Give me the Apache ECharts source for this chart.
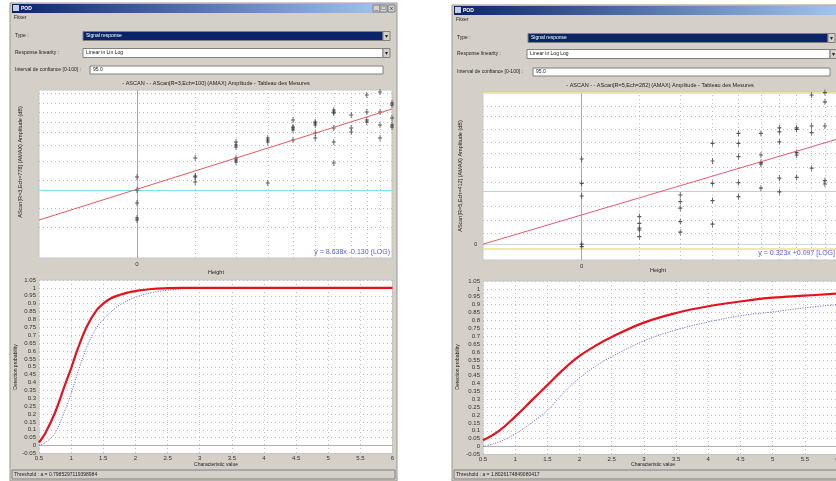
<!DOCTYPE html>
<html><head><meta charset="utf-8">
<script src="https://cdn.jsdelivr.net/npm/echarts@6/dist/echarts.min.js"></script>
<style>html,body{margin:0;padding:0;background:#fff}#c{width:836px;height:481px}</style>
</head><body><div id="c"></div>
<script>
// ---------- DATA ----------
// Top-left: amplitude vs log(height), columns of measurements
const leftHeights = [0, 0.97, 1.65, 2.18, 2.6, 2.97, 3.28, 3.57, 3.83, 4.05, 4.25];
const leftAmplitudes = [
  [6.5, 0, -6.5, -14, -15],
  [16, 7, 6.5, 4],
  [24, 22.5, 21.5, 16, 15, 14],
  [26, 25, 24, 3.5],
  [35, 31.5, 31, 30, 25],
  [34, 33.5, 32.5, 28.5, 26],
  [40, 39, 38.5, 31, 24, 13.5],
  [37.5, 31, 29],
  [47.5, 39, 35, 34],
  [49, 39, 32.5, 26],
  [43.5, 42.5, 36, 32.5, 31.5]
];
const leftFitLine = [[-1.633, -15], [4.25, 40.5]];
const leftGridLevels = [48.3, 43.3, 38.8, 33.8, 28.8, 22.5, 14.6, 5, -9.2, -18.4];
const leftDecision = 0;
const leftEquation = 'y = 8.638x -0.130 (LOG)';

// Top-right
const rightHeights = [0, 1, 1.71, 2.27, 2.72, 3.11, 3.43, 3.73, 3.99, 4.22];
const rightAmplitudes = [
  [16, 3.85, -2.5, -26.6, -27.8],
  [-12.8, -16.2, -18.6, -19.5, -22.8],
  [-2, -5.3, -8.6, -15.3, -20.6],
  [23.8, 15, 3.8, -4.8, -16.6],
  [28.8, 23.8, 17.2, 4.2, -2.8],
  [28.8, 18, 14.2, 13.5, 1.4],
  [31.6, 29.6, 24.6, 6.4, -0.4],
  [31.6, 30.8, 19.2, 18, 6.8],
  [48, 32.5, 29.2, 11.4],
  [49.2, 44.6, 32.5, 5.2, 3.5]
];
const rightFitLine = [[-1.713, -26.6], [4.43, 25.9]];
const rightGridLevels = [42.2, 37.2, 30.8, 24.6, 18.8, 11.8, 4.6, -7.8, -14.5, -21.2];
const rightDecision = 0;
const rightBounds = [49, -29];
const rightNoise = -26.5;
const rightEquation = 'y = 0.323x +0.097 [LOG]';

// Bottom: POD curves
const podLeftX   = [0.5, 0.6, 0.75, 0.9, 1, 1.1, 1.25, 1.4, 1.5, 1.6, 1.75, 1.9, 2, 2.25, 2.5, 2.75, 3, 4, 5, 6];
const podLeftPod = [0.02, 0.08, 0.21, 0.38, 0.49, 0.61, 0.76, 0.86, 0.9, 0.93, 0.955, 0.972, 0.98, 0.993, 0.998, 1, 1, 1, 1, 1];
const podLeftBoundX = [0.5, 0.6, 0.75, 0.9, 1, 1.1, 1.25, 1.4, 1.5, 1.6, 1.75, 2, 2.25, 2.5, 2.75, 3, 4, 5, 6];
const podLeftBound  = [0, 0.02, 0.08, 0.22, 0.33, 0.46, 0.63, 0.75, 0.8, 0.84, 0.89, 0.94, 0.97, 0.985, 0.995, 1, 1, 1, 1];

const podRightX   = [0.5, 0.75, 1, 1.25, 1.5, 1.75, 2, 2.25, 2.5, 3, 3.5, 4, 4.5, 5, 5.5, 6];
const podRightPod = [0.04, 0.1, 0.19, 0.29, 0.39, 0.49, 0.575, 0.64, 0.695, 0.786, 0.847, 0.89, 0.92, 0.944, 0.957, 0.97];
const podRightBound = [0.0, 0.03, 0.08, 0.15, 0.23, 0.34, 0.435, 0.51, 0.57, 0.67, 0.74, 0.79, 0.83, 0.854, 0.88, 0.9];

const leftThreshold = 'Threshold : a = 0.7985297119398984';
const rightThreshold = 'Threshold : a = 1.8026174849080417';

// ---------- BUILD ----------
const FONT = '"Liberation Sans", Arial, sans-serif';
function pts(hs, amps){ const o=[]; hs.forEach((h,i)=>amps[i].forEach(a=>o.push([h,a]))); return o; }
function zip(xs, ys){ return xs.map((x,i)=>[x, ys[i]]); }
const PLUS = 'path://M2,0H3V2H5V3H3V5H2V3H0V2H2Z';
const dotted = {type:[1,3], color:'#bdbdbd', width:1};

function gridMarks(xs, ys, extra){
  const d = [];
  xs.forEach((x,i)=>{ if (i>0) d.push({xAxis:x, lineStyle:dotted}); });
  ys.forEach(y=>d.push({yAxis:y, lineStyle:dotted}));
  d.push({xAxis:0, lineStyle:{type:'solid', color:'#a8a8a8', width:1}});
  return d.concat(extra);
}

function txt(x,y,s,o){
  const st = Object.assign({text:s, fill:'#222', font:'5px '+FONT, textAlign:'left', textVerticalAlign:'middle'}, (o&&o.style)||{});
  const e = {type:'text', x:x, y:y, z:100, silent:true, style:st};
  if (o && o.rotation) e.rotation = o.rotation;
  return e;
}
function rect(x,y,w,h,fill,stroke,z){
  return {type:'rect', shape:{x:x,y:y,width:w,height:h}, z:(z===undefined?-10:z), silent:true,
    style:{fill:fill, stroke:stroke||null, lineWidth:stroke?1:0}};
}
function titleGrad(){
  return {type:'linear', x:0, y:0, x2:1, y2:0, colorStops:[{offset:0,color:'#0a246a'},{offset:1,color:'#a6caf0'}]};
}

function windowParts(o){
  const g = [];
  g.push(rect(o.x, o.y, o.w, o.h, '#d4d0c8', '#9a978f', -20));
  g.push(rect(o.x+2, o.y+1, o.w-4, 9, titleGrad(), null, -15));
  g.push(rect(o.x+3, o.y+2, 6, 6, '#c8d0e0', null, -14));
  g.push(txt(o.x+11, o.y+5.5, 'POD', {style:{fill:'#fff', font:'bold 5px '+FONT}}));
  if (o.buttons) {
    [['_',24],['□',17],['x',9]].forEach(b=>{
      g.push(rect(o.x+o.w-b[1], o.y+2, 7, 7, '#d4d0c8', '#808080', -14));
      g.push(txt(o.x+o.w-b[1]+3.5, o.y+5.5, b[0], {style:{textAlign:'center', font:'6px '+FONT}}));
    });
  }
  g.push(txt(o.x+4, o.y+15, 'Fitxer'));
  g.push(txt(o.x+5, o.typeY, 'Type :'));
  g.push(rect(o.typeX, o.typeY-4.5, o.typeW, 9, '#0a246a', '#808080', -14));
  g.push(txt(o.typeX+3, o.typeY, 'Signal response', {style:{fill:'#fff'}}));
  g.push(rect(o.typeX+o.typeW, o.typeY-4.5, 7, 9, '#d4d0c8', '#808080', -14));
  g.push(txt(o.typeX+o.typeW+3.5, o.typeY, '▾', {style:{textAlign:'center', font:'6px '+FONT}}));
  g.push(txt(o.x+5, o.linY, 'Response linearity :'));
  g.push(rect(o.linX, o.linY-4.5, o.linW, 9, '#ffffff', '#808080', -14));
  g.push(txt(o.linX+3, o.linY, o.linText));
  g.push(rect(o.linX+o.linW, o.linY-4.5, 7, 9, '#d4d0c8', '#808080', -14));
  g.push(txt(o.linX+o.linW+3.5, o.linY, '▾', {style:{textAlign:'center', font:'6px '+FONT}}));
  g.push(txt(o.x+5, o.confY, 'Interval de confiance [0-100] :'));
  g.push(rect(o.confX, o.confY-4, o.confW, 8, '#ffffff', '#808080', -14));
  g.push(txt(o.confX+3, o.confY, '95.0'));
  g.push(txt(o.titleX, o.titleY, o.title, {style:{textAlign:'center', font:'5.5px '+FONT}}));
  g.push(txt(o.yNameX, o.yNameY, o.yName, {rotation:Math.PI/2, style:{textAlign:'center', font:'5.5px '+FONT}}));
  g.push(txt(o.yName2X, o.yName2Y, 'Detection probability', {rotation:Math.PI/2, style:{textAlign:'center', font:'5px '+FONT}}));
  g.push(txt(o.heightX, o.heightY, 'Height', {style:{textAlign:'center', font:'5.5px '+FONT}}));
  g.push(txt(o.charX, o.charY, 'Characteristic value', {style:{textAlign:'center', font:'5px '+FONT}}));
  g.push(txt(o.eqX, o.eqY, o.eq, {style:{textAlign:'right', fill:'#5a5ae6', font:'7px '+FONT}}));
  g.push(rect(o.x+2, o.statusY, o.w-4, 9, '#d4d0c8', '#808080', -14));
  g.push(txt(o.x+4, o.statusY+4.5, o.status));
  return g;
}

const graphics = []
  .concat(windowParts({x:10, y:3, w:387, h:478, buttons:true,
    typeX:83, typeY:36, typeW:300, linY:53, linX:83, linW:300, linText:'Linear in Lin Log',
    confY:70, confX:90, confW:293,
    titleX:216, titleY:83, title:'- ASCAN - - AScan[R=3,Ech=100] (AMAX) Amplitude - Tableau des Mesures',
    yNameX:20, yNameY:162, yName:'AScan[R=3,Ech=778] (AMAX) Amplitude (dB)',
    yName2X:16, yName2Y:367, heightX:216, heightY:272, charX:216, charY:465,
    eqX:390, eqY:252, eq:leftEquation, statusY:470, status:leftThreshold}))
  .concat(windowParts({x:452, y:5, w:400, h:476, buttons:false,
    typeX:528, typeY:38, typeW:300, linY:54, linX:527, linW:303, linText:'Linear in Log Log',
    confY:72, confX:533, confW:297,
    titleX:660, titleY:85, title:'- ASCAN - - AScan[R=5,Ech=282] (AMAX) Amplitude - Tableau des Mesures',
    yNameX:460, yNameY:176, yName:'AScan[R=5,Ech=412] (AMAX) Amplitude (dB)',
    yName2X:458, yName2Y:367, heightX:658, heightY:270, charX:653, charY:465,
    eqX:835, eqY:253, eq:rightEquation, statusY:470, status:rightThreshold}));
graphics.push(txt(477, 245, '0', {style:{textAlign:'right'}}));

const hiddenAxis = {show:true, axisLine:{show:false}, axisTick:{show:false}, splitLine:{show:false}};
const labelStyle = {fontSize:6, color:'#333', fontFamily:FONT};

const option = {
  animation:false,
  backgroundColor:'#ffffff',
  graphic: graphics,
  grid:[
    {left:39, top:90, width:353, height:168, show:true, backgroundColor:'#fff', borderColor:'#c8c8c8', borderWidth:1, outerBoundsMode:'none', containLabel:false},
    {left:483, top:92, width:354, height:168, show:true, backgroundColor:'#fff', borderColor:'#c8c8c8', borderWidth:1, outerBoundsMode:'none', containLabel:false},
    {left:39, top:280, width:353.5, height:173.5, show:true, backgroundColor:'#fff', borderColor:'#c8c8c8', borderWidth:1, outerBoundsMode:'none', containLabel:false},
    {left:483, top:281, width:354, height:173.5, show:true, backgroundColor:'#fff', borderColor:'#c8c8c8', borderWidth:1, outerBoundsMode:'none', containLabel:false}
  ],
  xAxis:[
    Object.assign({type:'value', gridIndex:0, min:-1.633, max:4.25,
      axisLabel:Object.assign({customValues:[0], margin:3}, labelStyle)}, hiddenAxis),
    Object.assign({type:'value', gridIndex:1, min:-1.713, max:4.43,
      axisLabel:Object.assign({customValues:[0], margin:3}, labelStyle)}, hiddenAxis),
    {type:'value', gridIndex:2, min:0.5, max:6, interval:0.5, axisLine:{show:false}, axisTick:{show:false},
      axisLabel:Object.assign({margin:2}, labelStyle), splitLine:{show:true, lineStyle:dotted}},
    {type:'value', gridIndex:3, min:0.5, max:6, interval:0.5, axisLine:{show:false}, axisTick:{show:false},
      axisLabel:Object.assign({margin:2}, labelStyle), splitLine:{show:true, lineStyle:dotted}}
  ],
  yAxis:[
    Object.assign({type:'value', gridIndex:0, min:-34, max:50, axisLabel:{show:false}}, hiddenAxis),
    Object.assign({type:'value', gridIndex:1, min:-34.5, max:49.5, axisLabel:{show:false}}, hiddenAxis),
    {type:'value', gridIndex:2, min:-0.05, max:1.05, interval:0.05, axisLine:{show:false}, axisTick:{show:false},
      axisLabel:Object.assign({margin:3}, labelStyle), splitLine:{show:true, lineStyle:dotted}},
    {type:'value', gridIndex:3, min:-0.05, max:1.05, interval:0.05, axisLine:{show:false}, axisTick:{show:false},
      axisLabel:Object.assign({margin:3}, labelStyle), splitLine:{show:true, lineStyle:dotted}}
  ],
  series:[
    {type:'scatter', xAxisIndex:0, yAxisIndex:0, data:pts(leftHeights, leftAmplitudes),
      symbol:PLUS, symbolSize:[4,6], itemStyle:{color:'#303030'}, z:5, silent:true,
      markLine:{silent:true, symbol:'none', label:{show:false}, animation:false,
        data:gridMarks(leftHeights, leftGridLevels, [{yAxis:leftDecision, lineStyle:{type:'solid', color:'#7fe0ee', width:1}}])}},
    {type:'line', xAxisIndex:0, yAxisIndex:0, data:leftFitLine, showSymbol:false, silent:true,
      lineStyle:{color:'#e85a5a', width:1}, z:6},
    {type:'scatter', xAxisIndex:1, yAxisIndex:1, data:pts(rightHeights, rightAmplitudes),
      symbol:PLUS, symbolSize:[4,6], itemStyle:{color:'#303030'}, z:5, silent:true,
      markLine:{silent:true, symbol:'none', label:{show:false}, animation:false,
        data:gridMarks(rightHeights, rightGridLevels, [
          {yAxis:rightDecision, lineStyle:{type:'solid', color:'#8fe6f0', width:1}},
          {yAxis:rightBounds[0], lineStyle:{type:'solid', color:'#efe08a', width:1.5}},
          {yAxis:rightBounds[1], lineStyle:{type:'solid', color:'#efe08a', width:1.5}},
          {yAxis:rightNoise, lineStyle:{type:'solid', color:'#c6daf2', width:1}}
        ])}},
    {type:'line', xAxisIndex:1, yAxisIndex:1, data:rightFitLine, showSymbol:false, silent:true,
      lineStyle:{color:'#e85a6a', width:1}, z:6},
    {type:'line', xAxisIndex:2, yAxisIndex:2, data:zip(podLeftBoundX, podLeftBound), showSymbol:false, smooth:0.4, silent:true,
      lineStyle:{color:'#5a5af0', width:1, type:[1,1.5]}, z:5,
      markLine:{silent:true, symbol:'none', label:{show:false}, data:[{yAxis:0, lineStyle:{type:'solid', color:'#b0b0b0', width:1}}]}},
    {type:'line', xAxisIndex:2, yAxisIndex:2, data:zip(podLeftX, podLeftPod), showSymbol:false, smooth:0.4, silent:true,
      lineStyle:{color:'#e8101c', width:2.2}, z:6},
    {type:'line', xAxisIndex:3, yAxisIndex:3, data:zip(podRightX, podRightBound), showSymbol:false, smooth:0.4, silent:true,
      lineStyle:{color:'#5a5af0', width:1, type:[1,1.5]}, z:5,
      markLine:{silent:true, symbol:'none', label:{show:false}, data:[{yAxis:0, lineStyle:{type:'solid', color:'#b0b0b0', width:1}}]}},
    {type:'line', xAxisIndex:3, yAxisIndex:3, data:zip(podRightX, podRightPod), showSymbol:false, smooth:0.4, silent:true,
      lineStyle:{color:'#e8101c', width:2.2}, z:6}
  ]
};
const chart = echarts.init(document.getElementById('c'), null, {renderer:'canvas'});
chart.setOption(option);
</script></body></html>
